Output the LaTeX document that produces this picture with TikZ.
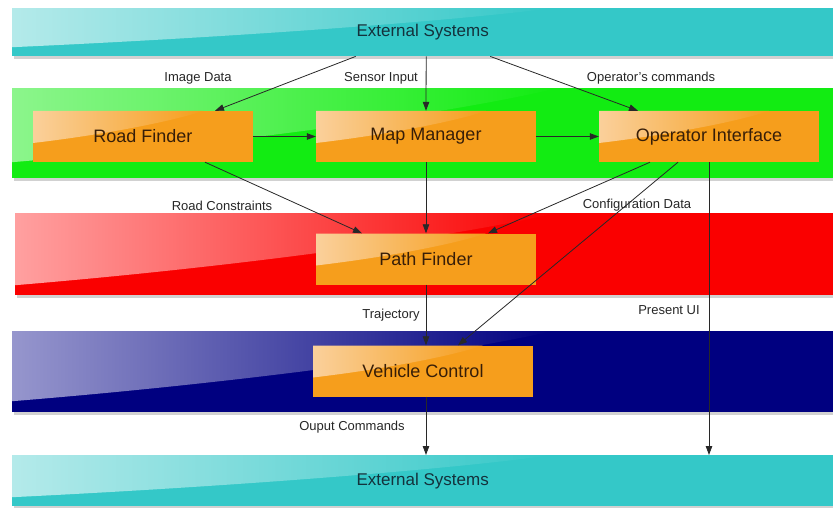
\documentclass[tikz,border=0pt]{standalone}
\usepackage{fontspec}
\setmainfont{Liberation Sans}
\usetikzlibrary{arrows.meta,calc}
\definecolor{tealband}{RGB}{52,200,200}
\definecolor{teallight}{RGB}{180,234,234}
\definecolor{greenband}{RGB}{18,236,18}
\definecolor{greenlight}{RGB}{140,245,140}
\definecolor{redband}{RGB}{250,0,0}
\definecolor{redlight}{RGB}{255,160,160}
\definecolor{blueband}{RGB}{0,0,128}
\definecolor{bluelight}{RGB}{150,150,205}
\definecolor{orangebox}{RGB}{246,158,28}
\definecolor{orangelight}{RGB}{250,208,155}
\definecolor{boxtext}{RGB}{55,30,8}
\definecolor{bandtext}{RGB}{20,50,60}
\definecolor{linecol}{RGB}{40,40,40}
\pgfdeclarelayer{bg}
\pgfsetlayers{bg,main}
\tikzset{
  gloss/.style n args={4}{path picture={
    \coordinate (g0) at (path picture bounding box.north west);
    \shade[left color=#1, right color=#2]
      (g0) -- ($(g0)+(#3,0)$)
      .. controls ($(g0)+(#3*0.8,#4*0.35)$) and ($(g0)+(#3*0.4,#4*0.75)$) .. ($(g0)+(0,#4)$) -- cycle;
  }},
  band/.style={anchor=north west, inner sep=0pt, minimum width=821pt},
  extband/.style={band, fill=tealband, text=bandtext, font=\fontsize{17}{20}\selectfont,
    gloss={teallight}{tealband}{540}{#1}},
  box/.style={fill=orangebox, text=boxtext, minimum width=220pt, minimum height=51pt,
    inner sep=0pt, font=\fontsize{18}{21}\selectfont, gloss={orangelight}{orangebox}{170}{32}},
  lbl/.style={font=\fontsize{13}{15}\selectfont, text=black!85, inner sep=0pt},
  arr/.style={draw=linecol, line width=0.8pt, -{Triangle[length=9pt,width=6.5pt]}},
}
\begin{document}
\begin{tikzpicture}[x=1pt,y=-1pt]
\useasboundingbox (0,0) rectangle (833,508);
% bands
\node[extband=39, minimum height=48pt] (ext1) at (12,8) {External Systems};
\node[band, minimum height=90pt, fill=greenband, gloss={greenlight}{greenband}{545}{74}] (gband) at (12,88) {};
\node[band, minimum width=818pt, minimum height=82pt, fill=redband, gloss={redlight}{redband}{540}{72}] (rband) at (15,213) {};
\node[band, minimum height=81pt, fill=blueband, gloss={bluelight}{blueband}{540}{70}] (bband) at (12,331) {};
\node[extband=42, minimum height=51pt] (ext2) at (12,455) {External Systems};
% boxes
\node[box] (rf) at (143,136.5) {Road Finder};
\node[box] (mm) at (426,136.5) {Map Manager};
\node[box] (oi) at (709,136.5) {Operator Interface};
\node[box] (pf) at (426,259) {Path Finder};
\node[box] (vc) at (423,371) {Vehicle Control};
% shadows
\begin{pgfonlayer}{bg}
  \foreach \n in {ext1,gband,rband,bband,ext2,rf,mm,oi,pf,vc}{
    \fill[black,opacity=0.18] ([shift={(2,3)}]\n.north west) rectangle ([shift={(2,3)}]\n.south east);
  }
\end{pgfonlayer}
% connectors
\draw[arr] ([xshift=-67]ext1.south) -- ([xshift=72]rf.north);
\draw[arr] ([xshift=3.5]ext1.south) -- (mm.north);
\draw[arr] ([xshift=67.5]ext1.south) -- ([xshift=-71]oi.north);
\draw[arr] (rf.east) -- (mm.west);
\draw[arr] (mm.east) -- (oi.west);
\draw[arr] ([xshift=62]rf.south) -- ([xshift=-64]pf.north);
\draw[arr] (mm.south) -- (pf.north);
\draw[arr] ([xshift=-59]oi.south) -- ([xshift=62]pf.north);
\draw[arr] ([xshift=-31]oi.south) -- ([xshift=35]vc.north);
\draw[arr] (pf.south) -- (pf.south |- vc.north);
\draw[arr] (oi.south) -- (oi.south |- ext2.north);
\draw[arr] (pf.south |- vc.south) -- (pf.south |- ext2.north);
% labels
\node[lbl] (l1) at (198,78) {Image Data};
\node[lbl] (l2) at (381,78) {Sensor Input};
\node[lbl] (l3) at (651,78) {Operator's commands};
\node[lbl] (l4) at (222,206) {Road Constraints};
\node[lbl] (l5) at (637,205) {Configuration Data};
\node[lbl] (l6) at (391,315) {Trajectory};
\node[lbl] (l7) at (669,310) {Present UI};
\node[lbl] (l8) at (352,427) {Ouput Commands};
\end{tikzpicture}
\end{document}
